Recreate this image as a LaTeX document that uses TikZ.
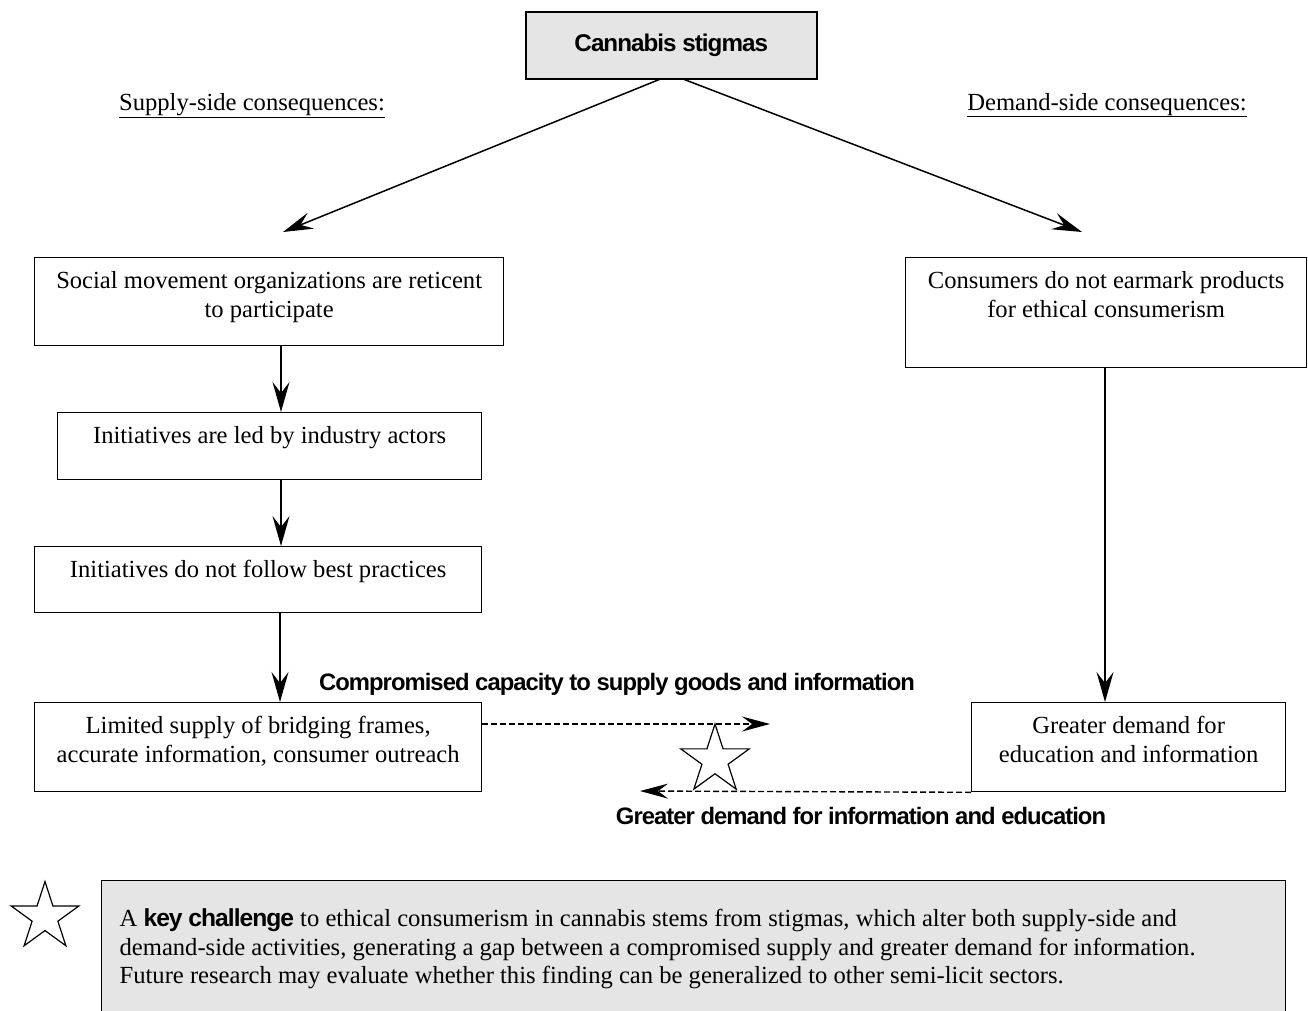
\documentclass[tikz,border=0pt]{standalone}
\usepackage{fontspec}
\setmainfont{Liberation Serif}
\newfontfamily\hsans[LetterSpace=-4]{Liberation Sans}
\usetikzlibrary{arrows.meta,shapes.geometric}
\newcommand{\bxt}[3]{\parbox[c][#2pt][t]{#1pt}{\centering\vspace*{11pt}\strut #3\par}}
\tikzset{
  box/.style={draw, line width=1.3pt, inner sep=0pt, anchor=north west, font=\fontsize{24.6}{29}\selectfont},
  arr/.style={line width=1.5pt, -{Stealth[length=30pt,width=17pt,inset=11pt]}},
  dasharr/.style={line width=1.4pt, dash pattern=on 6pt off 3pt, -{Stealth[length=28pt,width=15pt,inset=10pt]}},
  lbl/.style={font=\hsans\bfseries\fontsize{23.8}{26}\selectfont, anchor=base, inner sep=0pt},
  head/.style={font=\fontsize{24.6}{26}\selectfont, anchor=base, inner sep=0pt},
  starnode/.style={star, star points=5, star point ratio=2.618, draw, line width=1.2pt, inner sep=0pt}
}
\begin{document}
\begin{tikzpicture}[x=1pt,y=-1pt]
\clip (0,0) rectangle (1308,1010);
\useasboundingbox (0,0) rectangle (1308,1010);
% top
\node[draw, line width=1.5pt, fill=black!10, minimum width=291pt, minimum height=67pt, inner sep=0pt, anchor=north west,
  font=\hsans\bfseries\fontsize{24.2}{26}\selectfont] (top) at (525,11) {Cannabis stigmas};
\node[head] (sup) at (252,110) {\underline{Supply-side consequences:}};
\node[head] (dem) at (1107,110) {\underline{Demand-side consequences:}};
% left column
\node[box] (b1) at (34,257) {\bxt{469}{88}{Social movement organizations are reticent\\to participate}};
\node[box] (b2) at (57,412) {\bxt{424}{67}{Initiatives are led by industry actors}};
\node[box] (b3) at (34,546) {\bxt{447}{66}{Initiatives do not follow best practices}};
\node[box] (b4) at (34,702) {\bxt{447}{89}{Limited supply of bridging frames,\\accurate information, consumer outreach}};
% right column
\node[box] (r1) at (905,257) {\bxt{401}{110}{Consumers do not earmark products\\for ethical consumerism}};
\node[box] (r2) at (971,702) {\bxt{314}{89}{Greater demand for\\education and information}};
% coordinates
\coordinate (lt) at (283,232);
\coordinate (rt) at (1082,232);
\coordinate (ax) at (281,0);
\coordinate (ax3) at (280,0);
\coordinate (rx) at (1105,0);
\coordinate (d1) at (770,724);
\coordinate (d2) at (640,791);
% connectors
\draw[arr] ([xshift=-12pt]top.south) -- (lt);
\draw[arr] ([xshift=13pt]top.south) -- (rt);
\draw[arr] (b1.south -| ax) -- (b2.north -| ax);
\draw[arr] (b2.south -| ax) -- (b3.north -| ax);
\draw[arr] (b3.south -| ax3) -- (b4.north -| ax3);
\draw[arr] (r1.south -| rx) -- (r2.north -| rx);
\draw[dasharr] (b4.east |- d1) -- (d1);
\draw[dasharr] (r2.south west) -- (d2);
\node[lbl] (l1) at (617,690) {Compromised capacity to supply goods and information};
\node[lbl] (l2) at (861,824) {Greater demand for information and education};
\node[starnode, minimum size=72pt] (s1) at (715,760) {};
\node[starnode, minimum size=71pt] (s2) at (45,917) {};
% bottom
\node[draw, line width=1.3pt, fill=black!10, inner sep=0pt, anchor=north west, font=\fontsize{24.6}{28.5}\selectfont] (note) at (101,880)
 {\parbox[c][140pt][t]{1184pt}{\leftskip=18pt\rightskip=0pt plus 1fil\parindent=0pt\vspace*{26pt}\strut A {\hsans\bfseries key challenge} to ethical consumerism in cannabis stems from stigmas, which alter both supply-side and\\
 demand-side activities, generating a gap between a compromised supply and greater demand for information.\\
 Future research may evaluate whether this finding can be generalized to other semi-licit sectors.\par}};
\end{tikzpicture}
\end{document}
